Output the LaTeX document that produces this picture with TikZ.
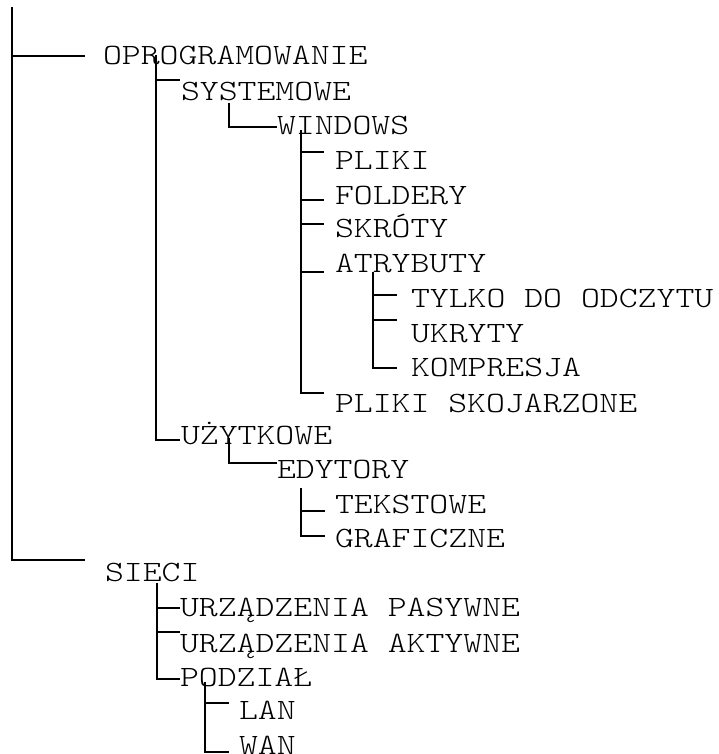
\documentclass[tikz,border=0pt]{standalone}
\usepackage{fontspec}
\newfontfamily\courfont[FakeStretch=1.22]{Latin Modern Mono Light}
\begin{document}
\begin{tikzpicture}[x=1bp,y=-1bp,
  lbl/.style={anchor=base west,inner sep=0pt,outer sep=0pt,font=\courfont\fontsize{29.5bp}{34bp}\selectfont},
  tree/.style={line width=1.8bp,black}]
\useasboundingbox[fill=white] (0,0) rectangle (719,754);
% labels
\node[lbl] (oprog) at (103,65) {OPROGRAMOWANIE};
\node[lbl] (syst) at (181,100) {SYSTEMOWE};
\node[lbl] (win) at (277,134) {WINDOWS};
\node[lbl] (pliki) at (335,169) {PLIKI};
\node[lbl] (fold) at (335,204) {FOLDERY};
\node[lbl] (skr) at (335,237) {SKRÓTY};
\node[lbl] (atr) at (335,272) {ATRYBUTY};
\node[lbl] (tylko) at (411,307) {TYLKO DO ODCZYTU};
\node[lbl] (ukr) at (411,342) {UKRYTY};
\node[lbl] (komp) at (411,376) {KOMPRESJA};
\node[lbl] (skoj) at (335,412) {PLIKI SKOJARZONE};
\node[lbl] (uzyt) at (181,444) {UŻYTKOWE};
\node[lbl] (edyt) at (277,478) {EDYTORY};
\node[lbl] (teks) at (335,513) {TEKSTOWE};
\node[lbl] (graf) at (335,547) {GRAFICZNE};
\node[lbl] (sieci) at (105,581) {SIECI};
\node[lbl] (pas) at (180,616) {URZĄDZENIA PASYWNE};
\node[lbl] (akt) at (180,652) {URZĄDZENIA AKTYWNE};
\node[lbl] (podz) at (180,686) {PODZIAŁ};
\node[lbl] (lan) at (239,719) {LAN};
\node[lbl] (wan) at (239,754) {WAN};
% connector coordinates
\coordinate (rTop) at (12,7);
\coordinate (rOprog) at (85,56);
\coordinate (rSieci) at (85,560);
\coordinate (oTop) at (156,55);
\coordinate (oSyst) at (180,80);
\coordinate (oUzyt) at (180,440);
\coordinate (sTop) at (229,103);
\coordinate (sWin) at (277,127);
\coordinate (wTop) at (301,130);
\coordinate (wPliki) at (324,152);
\coordinate (wFold) at (324,200);
\coordinate (wSkr) at (324,224);
\coordinate (wAtr) at (324,272);
\coordinate (wSkoj) at (324,393);
\coordinate (aTop) at (373,272);
\coordinate (aTylko) at (397,295);
\coordinate (aUkr) at (397,320);
\coordinate (aKomp) at (397,368);
\coordinate (uTop) at (229,438);
\coordinate (uEdyt) at (277,463);
\coordinate (eTop) at (301,488);
\coordinate (eTeks) at (325,511);
\coordinate (eGraf) at (325,536);
\coordinate (siTop) at (157,583);
\coordinate (siPas) at (180,608);
\coordinate (siAkt) at (180,632);
\coordinate (siPodz) at (180,679);
\coordinate (pTop) at (205,682);
\coordinate (pLan) at (229,703);
\coordinate (pWan) at (229,752);
% connectors
\draw[tree] (rTop) |- (rOprog) (rTop) |- (rSieci);
\draw[tree] (oTop) |- (oSyst) (oTop) |- (oUzyt);
\draw[tree] (sTop) |- (sWin);
\draw[tree] (wTop) |- (wPliki) (wTop) |- (wFold) (wTop) |- (wSkr) (wTop) |- (wAtr) (wTop) |- (wSkoj);
\draw[tree] (aTop) |- (aTylko) (aTop) |- (aUkr) (aTop) |- (aKomp);
\draw[tree] (uTop) |- (uEdyt);
\draw[tree] (eTop) |- (eTeks) (eTop) |- (eGraf);
\draw[tree] (siTop) |- (siPas) (siTop) |- (siAkt) (siTop) |- (siPodz);
\draw[tree] (pTop) |- (pLan) (pTop) |- (pWan);
\end{tikzpicture}
\end{document}
